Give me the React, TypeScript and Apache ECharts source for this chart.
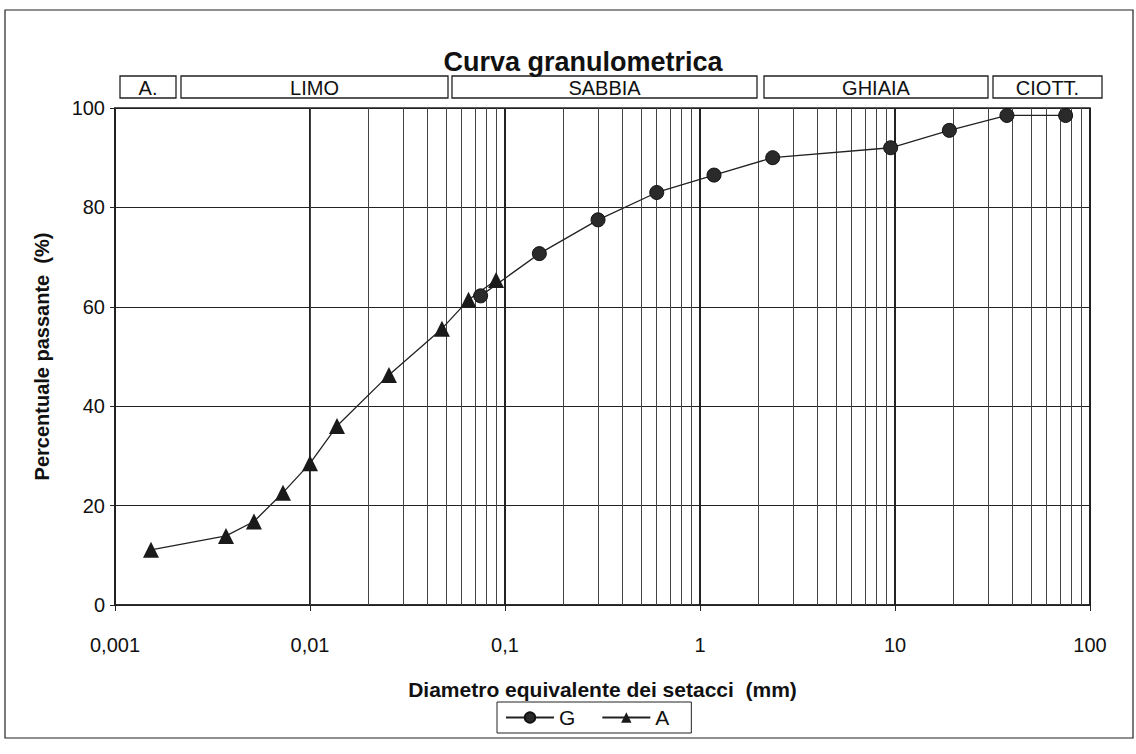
import React, { useEffect, useRef } from "react";
import * as echarts from "echarts";

// Sample G (sieve analysis)
const gDiam = [75, 37.5, 19, 9.5, 2.36, 1.18, 0.6, 0.3, 0.15, 0.075];
const gPass = [98.5, 98.5, 95.5, 92, 90, 86.5, 83, 77.5, 70.7, 62.2];
// Sample A (sedimentation)
const aDiam = [0.09, 0.065, 0.0475, 0.0254, 0.01375, 0.01, 0.00727, 0.00516, 0.00371, 0.00153];
const aPass = [65.4, 61.4, 55.6, 46.3, 36, 28.5, 22.6, 16.8, 13.9, 11.1];

const decades = [0.001, 0.01, 0.1, 1, 10];
const multipliers = [2, 3, 4, 5, 6, 7, 8, 9];

const bands = [
  { label: "A.", x0: 120, x1: 176 },
  { label: "LIMO", x0: 181, x1: 448 },
  { label: "SABBIA", x0: 452, x1: 757 },
  { label: "GHIAIA", x0: 764, x1: 988 },
  { label: "CIOTT.", x0: 993, x1: 1102 },
];

const FONT = "'Liberation Sans', Arial, sans-serif";

export default function App() {
  const ref = useRef<HTMLDivElement>(null);
  useEffect(() => {
    if (!ref.current) return;
    const chart = echarts.init(ref.current, null, { renderer: "svg" });
    const minorLines: any[] = [];
    decades.forEach((d) =>
      multipliers.forEach((m) => minorLines.push({ xAxis: +(d * m).toPrecision(3) }))
    );
    const graphics: any[] = [
      {
        type: "rect",
        shape: { x: 5, y: 10, width: 1128, height: 728 },
        style: { fill: "none", stroke: "#222", lineWidth: 1.2 },
        silent: true,
      },
    ];
    bands.forEach((b) => {
      graphics.push({
        type: "rect",
        shape: { x: b.x0, y: 76, width: b.x1 - b.x0, height: 22 },
        style: { fill: "#fff", stroke: "#222", lineWidth: 1.3 },
        silent: true,
      });
      graphics.push({
        type: "text",
        x: (b.x0 + b.x1) / 2,
        y: 88,
        style: {
          text: b.label,
          fill: "#111",
          font: `20px ${FONT}`,
          align: "center",
          verticalAlign: "middle",
        },
        silent: true,
      });
    });
    chart.setOption({
      animation: false,
      backgroundColor: "#fff",
      title: {
        text: "Curva granulometrica",
        left: 578,
        textAlign: "center",
        top: 43,
        textStyle: { fontFamily: FONT, fontSize: 27, fontWeight: "bold", color: "#111" },
      },
      graphic: graphics,
      grid: {
        left: 115,
        right: 46,
        top: 108,
        bottom: 149,
        show: true,
        borderColor: "#222",
        borderWidth: 1.5,
        backgroundColor: "transparent",
      },
      legend: {
        data: ["G", "A"],
        left: 497,
        top: 702,
        borderColor: "#222",
        borderWidth: 1,
        borderRadius: 0,
        padding: [5, 22, 5, 8],
        itemGap: 26,
        itemWidth: 48,
        itemHeight: 13,
        textStyle: { fontFamily: FONT, fontSize: 21, color: "#111" },
      },
      xAxis: {
        type: "log",
        logBase: 10,
        min: 0.001,
        max: 100,
        name: "Diametro equivalente dei setacci  (mm)",
        nameLocation: "middle",
        nameGap: 74,
        nameTextStyle: { fontFamily: FONT, fontSize: 21, fontWeight: "bold", color: "#111" },
        axisLine: { show: true, lineStyle: { color: "#222", width: 1.5 } },
        axisTick: { show: true, length: 6, lineStyle: { color: "#222" } },
        axisLabel: {
          margin: 30,
          fontFamily: FONT,
          fontSize: 20,
          color: "#111",
          formatter: (v: number) => String(v).replace(".", ","),
        },
        splitLine: { show: true, lineStyle: { color: "#222", width: 2 } },
      },
      yAxis: {
        type: "value",
        min: 0,
        max: 100,
        interval: 20,
        name: "Percentuale passante  (%)",
        nameLocation: "middle",
        nameGap: 63,
        nameTextStyle: { fontFamily: FONT, fontSize: 20, fontWeight: "bold", color: "#111" },
        axisLine: { show: true, lineStyle: { color: "#222", width: 1.5 } },
        axisTick: { show: true, length: 5, lineStyle: { color: "#222" } },
        axisLabel: { margin: 10, fontFamily: FONT, fontSize: 20, color: "#111" },
        splitLine: { show: true, lineStyle: { color: "#222", width: 1 } },
      },
      series: [
        {
          name: "grid",
          type: "line",
          data: [],
          z: 1,
          silent: true,
          markLine: {
            silent: true,
            symbol: "none",
            label: { show: false },
            lineStyle: { color: "#444", width: 1, type: "solid" },
            data: minorLines,
          },
        },
        {
          name: "G",
          type: "line",
          z: 5,
          data: gDiam.map((d, i) => [d, gPass[i]]),
          symbol: "circle",
          symbolSize: 14,
          lineStyle: { color: "#222", width: 1.3 },
          itemStyle: { color: "#2a2a2a", borderColor: "#111", borderWidth: 1 },
        },
        {
          name: "A",
          type: "line",
          z: 5,
          data: aDiam.map((d, i) => [d, aPass[i]]),
          symbol: "triangle",
          symbolSize: 16,
          lineStyle: { color: "#222", width: 1.3 },
          itemStyle: { color: "#1a1a1a" },
        },
      ],
    });
    return () => chart.dispose();
  }, []);
  return (
    <div
      ref={ref}
      style={{ position: "fixed", left: 0, top: 0, width: 1136, height: 754, background: "#fff" }}
    />
  );
}
